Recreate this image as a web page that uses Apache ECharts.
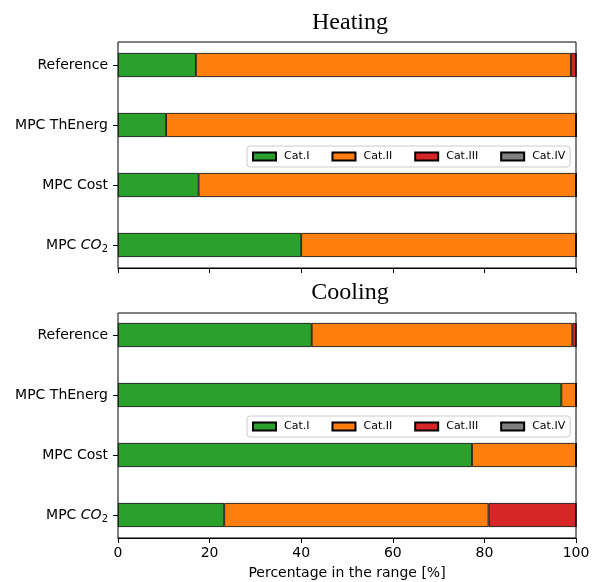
<!DOCTYPE html>
<html>
<head>
<meta charset="utf-8">
<script src="https://cdn.jsdelivr.net/npm/echarts@6/dist/echarts.min.js"></script>
<style>
  html, body { margin: 0; padding: 0; background: #fff; }
  #chart { width: 602px; height: 582px; }
</style>
</head>
<body>
<div id="chart"></div>
<script>
// Share of hours in each comfort category, per control strategy
const strategies = ['Reference', 'MPC ThEnerg', 'MPC Cost', 'MPC CO2'];
const categoryNames = ['Cat.I', 'Cat.II', 'Cat.III', 'Cat.IV'];
const categoryColors = ['#2ca02c', '#ff7f0e', '#d62728', '#7f7f7f'];

// Heating season [%]
const heatingCatI   = [17.0, 10.5, 17.6, 40.0];
const heatingCatII  = [81.9, 89.5, 82.4, 60.0];
const heatingCatIII = [1.1, 0, 0, 0];
const heatingCatIV  = [0, 0, 0, 0];

// Cooling season [%]
const coolingCatI   = [42.3, 96.8, 77.3, 23.2];
const coolingCatII  = [56.9, 3.2, 22.7, 57.7];
const coolingCatIII = [0.8, 0, 0, 19.1];
const coolingCatIV  = [0, 0, 0, 0];

const xTicks = [0, 20, 40, 60, 80, 100];

const heating = [heatingCatI, heatingCatII, heatingCatIII, heatingCatIV];
const cooling = [coolingCatI, coolingCatII, coolingCatIII, coolingCatIV];

const FONT = 'DejaVu Sans';
const plotLeft = 118, plotWidth = 458;

function strategyLabel(name) {
  return name.replace('CO2', '{i|CO}{s|2}');
}

const yLabelStyle = {
  color: '#000', fontFamily: FONT, fontSize: 14, margin: 10,
  formatter: strategyLabel,
  rich: {
    i: { fontStyle: 'italic', fontFamily: FONT, fontSize: 14, color: '#000' },
    s: { fontFamily: FONT, fontSize: 10, color: '#000', padding: [8, 0, 0, 0] }
  }
};

function barYAxis(gridIndex) {
  return {
    type: 'category', gridIndex, data: strategies, inverse: true,
    axisLine: { show: false },
    axisTick: { show: true, alignWithLabel: true, length: 5, lineStyle: { color: '#000', width: 1 } },
    axisLabel: yLabelStyle,
    splitLine: { show: false }
  };
}
function hiddenX(gridIndex) {
  return { type: 'value', gridIndex, min: 0, max: 100, show: false, splitLine: { show: false } };
}
function hiddenY(gridIndex) {
  return { type: 'value', gridIndex, show: false, splitLine: { show: false } };
}
function frameX(gridIndex, withLabels) {
  return {
    type: 'value', gridIndex, min: xTicks[0], max: xTicks[xTicks.length - 1], interval: 20,
    axisLine: { show: true, lineStyle: { color: '#000' } },
    axisTick: { show: true, length: 5, lineStyle: { color: '#000' } },
    axisLabel: { show: withLabels, color: '#000', fontFamily: FONT, fontSize: 14, margin: 8 },
    splitLine: { show: false },
    name: withLabels ? 'Percentage in the range [%]' : '',
    nameLocation: 'middle', nameGap: 28,
    nameTextStyle: { color: '#000', fontFamily: FONT, fontSize: 14 }
  };
}

function makeSeries(values, xi, yi, stack) {
  return values.map((arr, k) => ({
    type: 'bar', name: categoryNames[k], stack,
    xAxisIndex: xi, yAxisIndex: yi,
    barWidth: 24,
    data: arr,
    itemStyle: { color: categoryColors[k], borderColor: '#000', borderWidth: 0.8 },
    emphasis: { disabled: true }
  }));
}

function makeLegend(top) {
  return {
    data: categoryNames, left: 247, top, orient: 'horizontal',
    icon: 'rect', itemWidth: 23, itemHeight: 8, itemGap: 22,
    padding: [5, 5, 5, 5],
    backgroundColor: 'rgba(255,255,255,0.85)', borderColor: '#cccccc', borderWidth: 1, borderRadius: 3,
    selectedMode: false,
    textStyle: { color: '#000', fontFamily: FONT, fontSize: 11, padding: [0, 0, 0, 3] }
  };
}

const chart = echarts.init(document.getElementById('chart'), null, { renderer: 'canvas' });
chart.setOption({
  animation: false,
  backgroundColor: '#fff',
  title: [
    { text: 'Heating', left: plotLeft + plotWidth / 2 - 2, top: 6, textAlign: 'center',
      textStyle: { fontFamily: 'Liberation Serif', fontSize: 24, fontWeight: 'normal', color: '#000' } },
    { text: 'Cooling', left: plotLeft + plotWidth / 2 - 2, top: 276, textAlign: 'center',
      textStyle: { fontFamily: 'Liberation Serif', fontSize: 24, fontWeight: 'normal', color: '#000' } }
  ],
  legend: [makeLegend(146), makeLegend(416)],
  grid: [
    { left: plotLeft, width: plotWidth, top: 35, height: 240, show: false },
    { left: plotLeft, width: plotWidth, top: 42, height: 226, show: true, borderColor: '#000', borderWidth: 1, backgroundColor: 'transparent' },
    { left: plotLeft, width: plotWidth, top: 305, height: 240, show: false },
    { left: plotLeft, width: plotWidth, top: 313, height: 225, show: true, borderColor: '#000', borderWidth: 1, backgroundColor: 'transparent' }
  ],
  xAxis: [hiddenX(0), frameX(1, false), hiddenX(2), frameX(3, true)],
  yAxis: [barYAxis(0), hiddenY(1), barYAxis(2), hiddenY(3)],
  series: [].concat(
    makeSeries(heating, 0, 0, 'heating'),
    makeSeries(cooling, 2, 2, 'cooling')
  )
});
</script>
</body>
</html>
